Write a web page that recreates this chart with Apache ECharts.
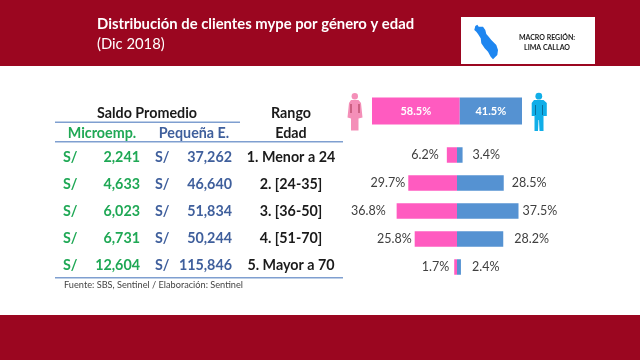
<!DOCTYPE html>
<html>
<head>
<meta charset="utf-8">
<script src="https://cdn.jsdelivr.net/npm/echarts@6/dist/echarts.min.js"></script>
<style>html,body{margin:0;padding:0;background:#fff}</style>
</head>
<body>
<div id="main" style="width:640px;height:360px"></div>
<script>
// datos
var ages = ['1. Menor a 24', '2. [24-35]', '3. [36-50]', '4. [51-70]', '5. Mayor a 70'];
var microEmp = [2241, 4633, 6023, 6731, 12604];
var pequenaE = [37262, 46640, 51834, 50244, 115846];
var totalFemale = [58.5];
var totalMale = [41.5];
var female = [6.2, 29.7, 36.8, 25.8, 1.7];
var male = [3.4, 28.5, 37.5, 28.2, 2.4];

var RED = '#9b0620', PINK = '#ff5bc0', BLUE = '#5592d2', GREEN = '#1fa855', NAVY = '#3f5f9c';
var LINE = '#7f9fd0', FONT = 'Lato, sans-serif';

// separacion etiqueta-barra en el original
var femaleGap = [8, 3, 11, 3, 5];
var maleGap = [10, 8, 4, 11, 11];

function txt(x, y, text, color, size, align, weight) {
    return {
        type: 'text', x: x, y: y,
        style: {
            text: text, fill: color, align: align || 'center', verticalAlign: 'middle',
            fontFamily: FONT, fontSize: size, fontWeight: weight || 'bold'
        }
    };
}
function rect(x, y, w, h, color) {
    return { type: 'rect', shape: { x: x, y: y, width: w, height: h }, style: { fill: color } };
}
function poly(points, color) {
    return { type: 'polygon', shape: { points: points }, style: { fill: color } };
}
function circle(cx, cy, r, color) {
    return { type: 'circle', shape: { cx: cx, cy: cy, r: r }, style: { fill: color } };
}

var graphics = [
    rect(0, 0, 640, 66, RED),
    rect(0, 315, 640, 45, RED),
    txt(97, 24, 'Distribución de clientes mype por género y edad', '#fff', 14.8, 'left'),
    txt(97, 44, '(Dic 2018)', '#fff', 14.8, 'left', 'normal'),
    rect(461, 17, 134, 47, '#fff'),
    // mapa
    poly([[474.3, 30], [475.3, 26], [477.3, 24.7], [478.7, 26.7], [483, 26.7], [485.3, 30], [486.3, 34],
        [488.7, 36.7], [491.3, 40], [496.3, 45], [498, 50], [497.3, 55], [493, 59.3], [490.7, 56.7],
        [488, 51.7], [484.7, 48.3], [481.3, 43.3], [480.7, 38.3], [478, 34], [476.3, 31.7]], '#1e86f0'),
    txt(547, 38, 'MACRO REGIÓN:', '#222', 7, 'center'),
    txt(547, 47.5, 'LIMA CALLAO', '#222', 7, 'center'),
    // tabla
    txt(147, 113, 'Saldo Promedio', '#1a1a1a', 14.3),
    txt(291, 113, 'Rango', '#1a1a1a', 14.3),
    txt(102, 133, 'Microemp.', GREEN, 14.3),
    txt(194, 133, 'Pequeña E.', NAVY, 14.3),
    txt(291, 133, 'Edad', '#1a1a1a', 14.3),
    rect(55, 121.5, 185, 1.6, LINE),
    rect(55, 141, 288, 1.6, LINE),
    rect(55, 277, 288, 1.6, LINE),
    txt(64, 285, 'Fuente: SBS, Sentinel / Elaboración: Sentinel', '#444', 9.2, 'left', 'normal'),
    // iconos
    circle(354.8, 96.3, 3.2, '#f48fb8'),
    poly([[351, 100], [358.5, 100], [361, 103], [362.5, 117.5], [358.5, 118.5], [358.5, 130.5],
        [351, 130.5], [351, 118.5], [347.5, 117.5], [349, 103]], '#f48fb8'),
    rect(350.5, 104, 1, 9, '#a3324f'),
    rect(358.5, 104, 1, 9, '#a3324f'),
    circle(538.8, 96.2, 3.4, '#10aee8'),
    poly([[534, 100], [543.5, 100], [546.8, 103], [546.8, 116], [543.5, 116], [543.5, 131], [539.5, 131],
        [539, 120], [538.5, 120], [538, 131], [534.5, 131], [534.5, 116], [531.7, 116], [531.7, 103]], '#10aee8'),
    rect(535, 105, 1, 10, '#0a6f9c'),
    rect(542, 105, 1, 10, '#0a6f9c')
];

ages.forEach(function (a, i) {
    var y = 157 + i * 27.2;
    graphics.push(txt(63, y, 'S/', GREEN, 14.3, 'left'));
    graphics.push(txt(140, y, microEmp[i].toLocaleString('en-US'), GREEN, 14.3, 'right'));
    graphics.push(txt(155, y, 'S/', NAVY, 14.3, 'left'));
    graphics.push(txt(232, y, pequenaE[i].toLocaleString('en-US'), NAVY, 14.3, 'right'));
});

function pct(p) { return Math.abs(p.value).toFixed(1) + '%'; }

var option = {
    animation: false,
    backgroundColor: '#fff',
    graphic: graphics,
    grid: [
        { left: 372, top: 97.5, width: 150, height: 27 },
        { left: 375, top: 141, width: 164, height: 140 },
        { left: 291, top: 143.4, width: 1, height: 136 }
    ],
    xAxis: [
        { gridIndex: 0, type: 'value', min: 0, max: 100, show: false },
        { gridIndex: 1, type: 'value', min: -50, max: 50, show: false },
        { gridIndex: 2, type: 'value', show: false }
    ],
    yAxis: [
        { gridIndex: 0, type: 'category', data: ['Total'], show: false },
        { gridIndex: 1, type: 'category', data: ages, inverse: true, show: false },
        {
            gridIndex: 2, type: 'category', data: ages, inverse: true,
            axisLine: { show: false }, axisTick: { show: false },
            axisLabel: { margin: 0, align: 'center', color: '#1a1a1a', fontFamily: FONT, fontSize: 14.3, fontWeight: 'bold' }
        }
    ],
    series: [
        {
            type: 'bar', name: 'Mujeres total', stack: 't', xAxisIndex: 0, yAxisIndex: 0, barWidth: '100%',
            data: totalFemale, itemStyle: { color: PINK },
            label: { show: true, position: 'inside', color: '#fff', fontFamily: FONT, fontSize: 11, fontWeight: 'bold', formatter: pct }
        },
        {
            type: 'bar', name: 'Hombres total', stack: 't', xAxisIndex: 0, yAxisIndex: 0, barWidth: '100%',
            data: totalMale, itemStyle: { color: BLUE },
            label: { show: true, position: 'inside', color: '#fff', fontFamily: FONT, fontSize: 11, fontWeight: 'bold', formatter: pct }
        },
        {
            type: 'bar', name: 'Mujeres', stack: 'e', xAxisIndex: 1, yAxisIndex: 1, barWidth: 15.5,
            data: female.map(function (v, i) {
                return { value: -v, label: { distance: femaleGap[i] } };
            }),
            itemStyle: { color: PINK },
            label: { show: true, position: 'left', color: '#404040', fontFamily: FONT, fontSize: 12.5, formatter: pct }
        },
        {
            type: 'bar', name: 'Hombres', stack: 'e', xAxisIndex: 1, yAxisIndex: 1, barWidth: 15.5,
            data: male.map(function (v, i) {
                return { value: v, label: { distance: maleGap[i] } };
            }),
            itemStyle: { color: BLUE },
            label: { show: true, position: 'right', color: '#404040', fontFamily: FONT, fontSize: 12.5, formatter: pct }
        }
    ]
};

var myEchart = echarts.init(document.getElementById('main'));
myEchart.setOption(option);
</script>
</body>
</html>
